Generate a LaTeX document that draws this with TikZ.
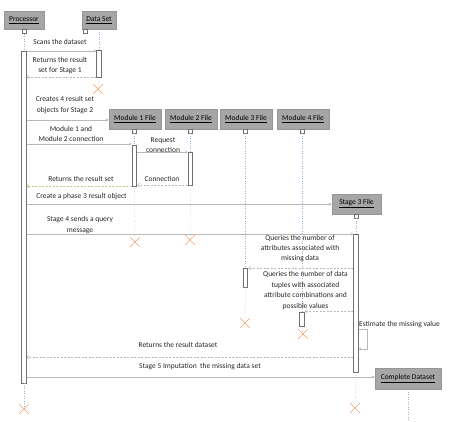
\documentclass[tikz,border=0pt]{standalone}
\usepackage{fontspec}
\setmainfont{Carlito}
\usetikzlibrary{arrows.meta,positioning,calc,shapes.misc}
\definecolor{boxgrey}{HTML}{A6A6A6}
\definecolor{boxline}{HTML}{969696}
\definecolor{msggrey}{HTML}{B8B8B8}
\definecolor{barline}{HTML}{707070}
\definecolor{lifeblue}{HTML}{8DB3DC}
\definecolor{crossorange}{HTML}{F2A06A}
\definecolor{retolive}{HTML}{C2C98E}
\tikzset{
  objbox/.style={draw=boxline,fill=boxgrey,inner sep=0pt,font=\fontsize{7.5}{9}\selectfont},
  headsq/.style={draw=barline,fill=white,minimum size=4pt,inner sep=0pt},
  actbar/.style={draw=barline,fill=white,minimum width=4.5pt,inner sep=0pt,line width=0.6pt},
  life/.style={lifeblue,dotted,line width=0.5pt},
  endx/.style={cross out,draw=crossorange,minimum size=9pt,inner sep=0pt,line width=0.6pt},
  msg/.style={msggrey,line width=0.55pt,-{Stealth[length=3pt,width=3pt]}},
  ret/.style={msggrey,line width=0.45pt,dash pattern=on 2pt off 1.5pt,-{Straight Barb[length=2.5pt,width=4pt]}},
  lbl/.style={font=\fontsize{7.5}{10.4}\selectfont,align=center,inner sep=0pt,text=black!85},
}
\begin{document}
\begin{tikzpicture}[x=1pt,y=-1pt]
  \useasboundingbox (0,0) rectangle (459,422);
  % objects
  \node[objbox,minimum width=40pt,minimum height=18pt] (proc) at (24,20) {\underline{Processor}};
  \node[objbox,minimum width=34pt,minimum height=18pt] (data) at (99,20) {\underline{Data Set}};
  \node[objbox,minimum width=52pt,minimum height=20pt] (mod1) at (135,119) {\underline{Module 1 File}};
  \node[objbox,minimum width=52pt,minimum height=20pt] (mod2) at (191,119) {\underline{Module 2 File}};
  \node[objbox,minimum width=52pt,minimum height=20pt] (mod3) at (246,119) {\underline{Module 3 File}};
  \node[objbox,minimum width=52pt,minimum height=20pt] (mod4) at (303,119) {\underline{Module 4 File}};
  \node[objbox,minimum width=49pt,minimum height=20pt] (st3) at (356.5,204) {\underline{Stage 3 File}};
  \node[objbox,minimum width=66pt,minimum height=21pt] (cdata) at (408,378.5) {\underline{Complete Dataset}};
  % small squares under heads
  \node[headsq,below=0pt of proc] (sqproc) {};
  \node[headsq,anchor=north] (sqdata) at (85,29) {};
  \node[headsq,anchor=north] (sqmod1) at (134.5,129) {};
  \node[headsq,anchor=north] (sqmod2) at (190.5,129) {};
  \node[headsq,anchor=north] (sqmod3) at (245.5,129) {};
  \node[headsq,anchor=north] (sqmod4) at (302,129) {};
  \node[headsq,anchor=north] (sqst3) at (356,214) {};
  % activation bars
  \node[actbar,minimum height=332pt] (pbar) at (24,217) {};
  \node[actbar,minimum height=27pt] (dbar) at (99,63.5) {};
  \node[actbar,minimum height=41pt] (bar1) at (134.5,165.5) {};
  \node[actbar,minimum height=33pt] (bar2) at (190.5,168.5) {};
  \node[actbar,minimum height=19pt] (bar3) at (245.5,277.5) {};
  \node[actbar,minimum height=14pt] (bar4) at (302,319) {};
  \node[actbar,minimum height=138pt] (sbar) at (356,303) {};
  % end marks
  \node[endx] (xproc) at (24,409) {};
  \node[endx] (xdata) at (98,89) {};
  \node[endx] (xmod1) at (135,242) {};
  \node[endx] (xmod2) at (190,240) {};
  \node[endx] (xmod3) at (245,323) {};
  \node[endx] (xmod4) at (303,334) {};
  \node[endx] (xst3) at (355,408) {};
  \coordinate (cdend) at (408,422);
  % lifelines
  \draw[life] (sqproc.south) -- (pbar.north);
  \draw[life] (pbar.south) -- (xproc.center);
  \draw[life] (data.south) -- (dbar.north);
  \draw[life] (dbar.south) -- (xdata.center);
  \draw[life] (sqmod1.south) -- (bar1.north);
  \draw[life] (bar1.south) -- (xmod1.center);
  \draw[life] (sqmod2.south) -- (bar2.north);
  \draw[life] (bar2.south) -- (xmod2.center);
  \draw[life] (sqmod3.south) -- (bar3.north);
  \draw[life] (bar3.south) -- (xmod3.center);
  \draw[life] (sqmod4.south) -- (bar4.north);
  \draw[life] (bar4.south) -- (xmod4.center);
  \draw[life] (sqst3.south) -- (sbar.north);
  \draw[life] (sbar.south) -- (xst3.center);
  \draw[life] (cdata.south) -- (cdend);
  % message heights
  \coordinate (y1) at (0,51);
  \coordinate (y2) at (0,77);
  \coordinate (y3) at (0,120);
  \coordinate (y4) at (0,144);
  \coordinate (y5) at (0,152);
  \coordinate (y6) at (0,185);
  \coordinate (y7) at (0,186);
  \coordinate (y8) at (0,204);
  \coordinate (y9) at (0,234);
  \coordinate (y10) at (0,268);
  \coordinate (y11) at (0,311);
  \coordinate (y13) at (0,357);
  \coordinate (y14) at (0,377);
  % messages
  \draw[msg] (pbar.east |- y1) -- (dbar.west |- y1);
  \draw[ret] (dbar.west |- y2) -- (pbar.east |- y2);
  \draw[msg] (pbar.east |- y3) -- (mod1.west |- y3);
  \draw[msg] (pbar.east |- y4) -- (bar1.west |- y4);
  \draw[msg] (bar1.east |- y5) -- (bar2.west |- y5);
  \draw[ret] (bar2.west |- y6) -- (bar1.east |- y6);
  \draw[ret,retolive] (bar1.west |- y7) -- (pbar.east |- y7);
  \draw[msg] (pbar.east |- y8) -- (st3.west |- y8);
  \draw[msg] (pbar.east |- y9) -- (sbar.west |- y9);
  \draw[ret] (sbar.west |- y10) -- (bar3.east |- y10);
  \draw[ret] (sbar.west |- y11) -- (bar4.east |- y11);
  \draw[msg] (sbar.east |- 0,329) -- (367,329) -- (367,349) -- (sbar.east |- 0,349);
  \draw[ret] (sbar.west |- y13) -- (pbar.east |- y13);
  \draw[msg] (pbar.east |- y14) -- (cdata.west |- y14);
  % labels
  \node[lbl] (l1) at (60,42) {Scans the dataset};
  \node[lbl] (l2) at (60,65.5) {Returns the result\\set for Stage 1};
  \node[lbl] (l3) at (65,105) {Creates 4 result set\\objects for Stage 2};
  \node[lbl] (l4) at (71,134) {Module 1 and\\Module 2 connection};
  \node[lbl] (l5) at (163,145) {Request\\connection};
  \node[lbl] (l6) at (162,179) {Connection};
  \node[lbl] (l7) at (81,179) {Returns the result set};
  \node[lbl] (l8) at (81.5,197) {Create a phase 3 result object};
  \node[lbl] (l9) at (80,225) {Stage 4 sends a query\\message};
  \node[lbl] (l10) at (300,248.5) {Queries the number of\\attributes associated with\\missing data};
  \node[lbl] (l11) at (305.5,290.5) {Queries the number of data\\tuples with associated\\attribute combinations and\\possible values};
  \node[lbl,anchor=west] (l12) at (359,325) {Estimate the missing value};
  \node[lbl] (l13) at (178,345) {Returns the result dataset};
  \node[lbl] (l14) at (200,367) {Stage 5 Imputation\ \ the missing data set};
\end{tikzpicture}
\end{document}
